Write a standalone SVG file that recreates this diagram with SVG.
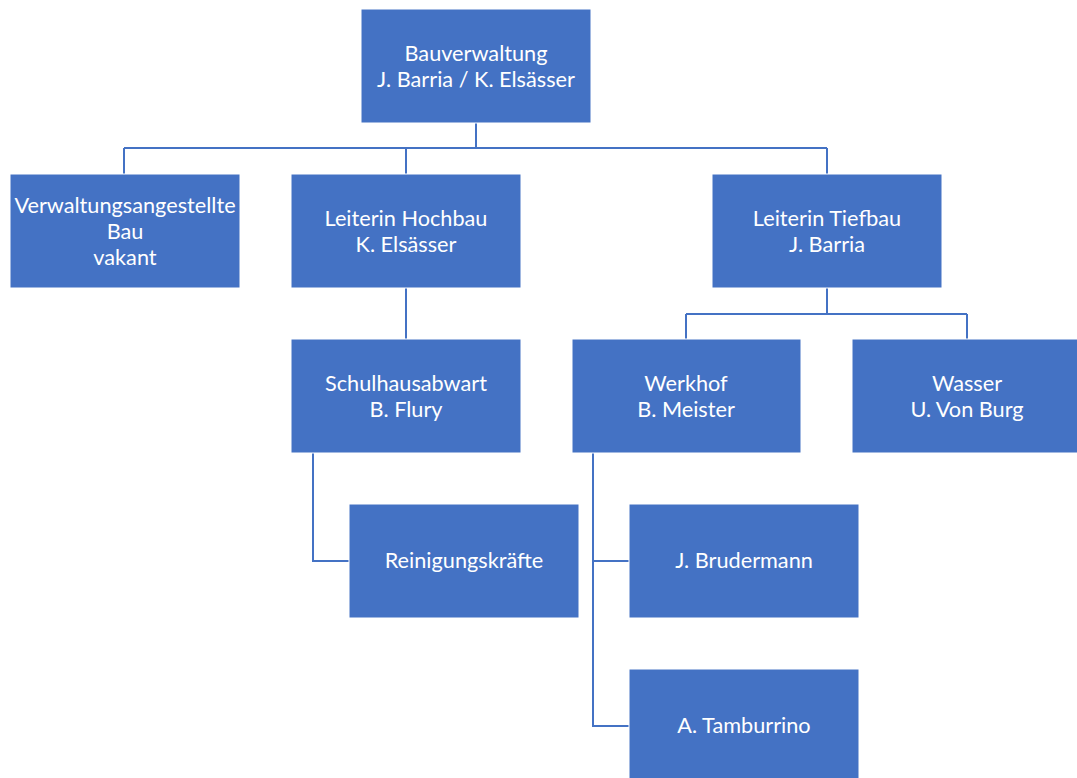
<svg xmlns="http://www.w3.org/2000/svg" width="1077" height="778" viewBox="0 0 1077 778">
<style>
.box{fill:#4472C4;stroke:#ffffff;stroke-width:1}
.t{font-family:Lato,"Open Sans",sans-serif;font-size:21.7px;fill:#ffffff;text-anchor:middle;dominant-baseline:central}
.c{fill:none;stroke:#4472C4;stroke-width:2}
</style>
<rect width="1077" height="778" fill="#ffffff"/>
<g id="connectors">
<path class="c" d="M476,123V148M124,148H827M124,148V174M406,148V174M827,148V174"/>
<path class="c" d="M406,288V339"/>
<path class="c" d="M827,288V314M686,314H967M686,314V339M967,314V339"/>
<path class="c" d="M313,453V561H349"/>
<path class="c" d="M593,453V726H629M593,561H629"/>
</g>
<g id="bauverwaltung"><rect class="box" x="361" y="9" width="230" height="114"/><text class="t" x="476" y="53">Bauverwaltung</text><text class="t" x="476" y="79">J. Barria / K. Elsässer</text></g>
<g id="verwaltungsangestellte"><rect class="box" x="10" y="174" width="230" height="114"/><text class="t" x="125" y="205">Verwaltungsangestellte</text><text class="t" x="125" y="231">Bau</text><text class="t" x="125" y="257">vakant</text></g>
<g id="hochbau"><rect class="box" x="291" y="174" width="230" height="114"/><text class="t" x="406" y="218">Leiterin Hochbau</text><text class="t" x="406" y="244">K. Elsässer</text></g>
<g id="tiefbau"><rect class="box" x="712" y="174" width="230" height="114"/><text class="t" x="827" y="218">Leiterin Tiefbau</text><text class="t" x="827" y="244">J. Barria</text></g>
<g id="schulhausabwart"><rect class="box" x="291" y="339" width="230" height="114"/><text class="t" x="406" y="383">Schulhausabwart</text><text class="t" x="406" y="409">B. Flury</text></g>
<g id="werkhof"><rect class="box" x="572" y="339" width="229" height="114"/><text class="t" x="686" y="383">Werkhof</text><text class="t" x="686" y="409">B. Meister</text></g>
<g id="wasser"><rect class="box" x="852" y="339" width="230" height="114"/><text class="t" x="967" y="383">Wasser</text><text class="t" x="967" y="409">U. Von Burg</text></g>
<g id="reinigung"><rect class="box" x="349" y="504" width="230" height="114"/><text class="t" x="464" y="560">Reinigungskräfte</text></g>
<g id="brudermann"><rect class="box" x="629" y="504" width="230" height="114"/><text class="t" x="744" y="560">J. Brudermann</text></g>
<g id="tamburrino"><rect class="box" x="629" y="669" width="230" height="114"/><text class="t" x="744" y="725">A. Tamburrino</text></g>
</svg>
